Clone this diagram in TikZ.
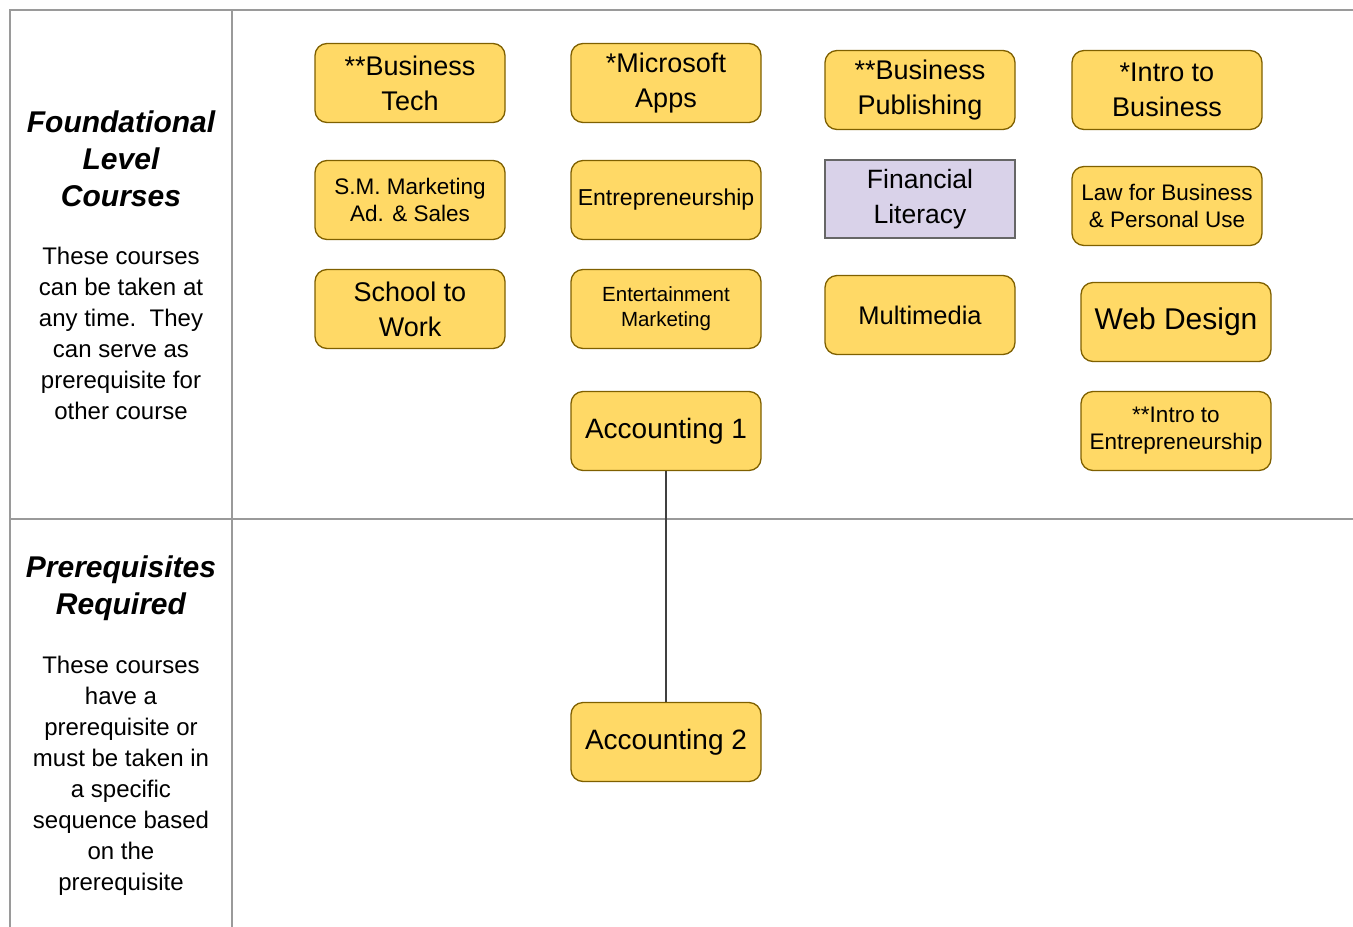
\documentclass[tikz,border=0pt]{standalone}
\usepackage{fontspec}
\setmainfont{Liberation Sans}
\definecolor{boxyellow}{HTML}{FFD966}
\definecolor{boxedge}{HTML}{7F6000}
\definecolor{lavender}{HTML}{D9D2E9}
\definecolor{lavedge}{HTML}{666666}
\definecolor{gridgray}{HTML}{9A9A9A}
\newcommand{\fsz}[2]{\fontsize{#1}{#2}\selectfont}
\tikzset{
  course/.style={draw=boxedge, fill=boxyellow, rounded corners=12pt, line width=1.3pt,
    minimum width=190pt, minimum height=79pt, align=center, inner sep=2pt},
  plainbox/.style={draw=lavedge, fill=lavender, line width=1.3pt,
    minimum width=190pt, minimum height=78pt, align=center, inner sep=2pt},
  rowhead/.style={align=center, font=\fsz{30}{37}\bfseries\itshape},
  rowtext/.style={align=center, font=\fsz{24}{31}},
  gridline/.style={draw=gridgray, line width=1.5pt},
  link/.style={draw=black!75, line width=1.2pt}
}
\begin{document}
\begin{tikzpicture}[x=1pt, y=-1pt]
        \useasboundingbox (0,0) rectangle (1353,927);
        % table
        \draw[gridline] (10,927) -- (10,10) -- (1353,10);
        \draw[gridline] (232,10) -- (232,927);
        \draw[gridline] (10,519) -- (1353,519);
        % row headings
        \node[rowhead] (foundhead) at (121,159) {Foundational\\Level\\Courses};
        \node[rowtext] (foundtext) at (121,333) {These courses\\can be taken at\\any time.\ \ They\\can serve as\\prerequisite for\\other course};
        \node[rowhead] (prereqhead) at (121,588) {Prerequisites\\Required};
        \node[rowtext] (prereqtext) at (121,776) {These courses\\have a\\prerequisite or\\must be taken in\\a specific\\sequence based\\on the\\prerequisite};
        % foundational courses
        \node[course, font=\fsz{27}{35}] (bustech) at (410,83) {**Business\\Tech};
        \node[course, font=\fsz{27}{35}] (msapps) at (666,83) {*Microsoft\\Apps};
        \node[course, font=\fsz{27}{35}] (buspub) at (920,90) {**Business\\Publishing};
        \node[course, font=\fsz{27}{35}] (introbus) at (1167,90) {*Intro to\\Business};
        \node[course, font=\fsz{22.5}{27}] (smmark) at (410,200) {S.M. Marketing\\Ad. \& Sales};
        \node[course, font=\fsz{23}{28}] (entre) at (666,200) {Entrepreneurship};
        \node[plainbox, font=\fsz{26.5}{35}] (finlit) at (920,199) {Financial\\Literacy};
        \node[course, font=\fsz{22.5}{27}] (law) at (1167,206) {Law for Business\\\& Personal Use};
        \node[course, font=\fsz{27}{35}] (school) at (410,309) {School to\\Work};
        \node[course, font=\fsz{20.5}{25}] (entmark) at (666,309) {Entertainment\\Marketing};
        \node[course, font=\fsz{25.5}{30}] (multi) at (920,315) {Multimedia};
        \node[course, font=\fsz{30}{36}] (web) at (1176,322) {Web Design};
        \node[course, font=\fsz{28}{34}] (acc1) at (666,431) {Accounting 1};
        \node[course, font=\fsz{22.5}{27}] (introent) at (1176,431) {**Intro to\\Entrepreneurship};
        % prerequisite courses
        \node[course, font=\fsz{28}{34}] (acc2) at (666,742) {Accounting 2};
        \draw[link] (acc1) -- (acc2);
\end{tikzpicture}
\end{document}
